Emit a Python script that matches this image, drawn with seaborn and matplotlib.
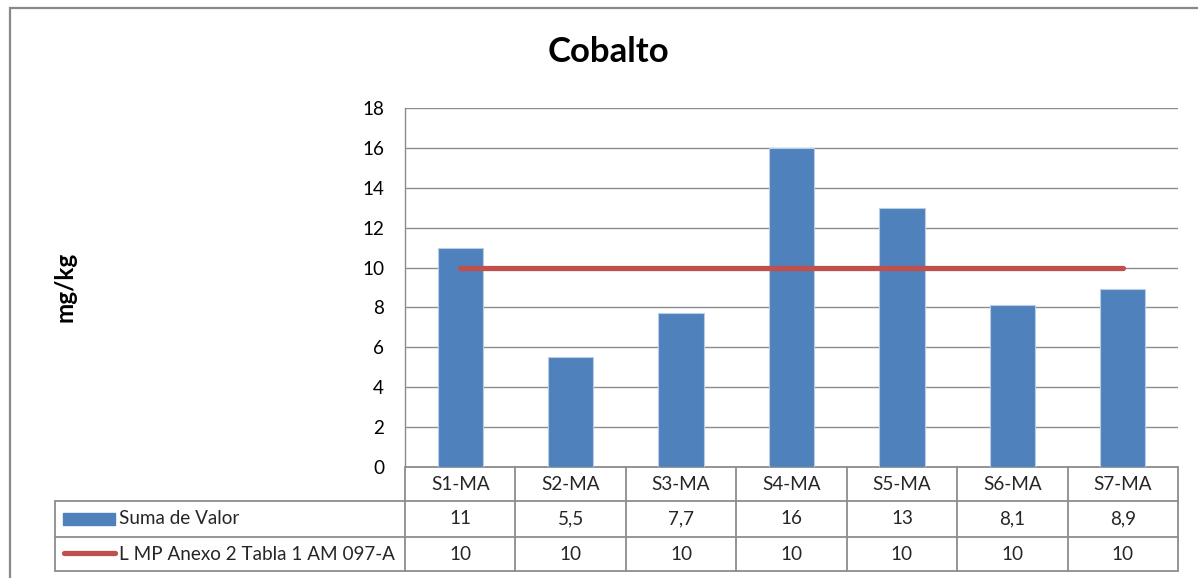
import matplotlib
matplotlib.use("Agg")
import matplotlib.pyplot as plt
from matplotlib.lines import Line2D
from matplotlib.patches import Rectangle
from matplotlib.transforms import blended_transform_factory
import pandas as pd
import seaborn as sns

# Data
muestras = ["S1-MA", "S2-MA", "S3-MA", "S4-MA", "S5-MA", "S6-MA", "S7-MA"]
suma_valor = [11, 5.5, 7.7, 16, 13, 8.1, 8.9]
limite = [10, 10, 10, 10, 10, 10, 10]
serie_barras = "Suma de Valor"
serie_linea = "L MP Anexo 2 Tabla 1 AM 097-A"

df = pd.DataFrame({"muestra": muestras, "valor": suma_valor, "limite": limite})

sns.set_style("white")
plt.rcParams["font.family"] = ["Lato", "DejaVu Sans"]

W, H = 1198, 578
fig = plt.figure(figsize=(W / 100, H / 100), dpi=100)

# plot area in pixels: x 405..1178, y 108..467
ax = fig.add_axes([405 / W, 1 - 467 / H, 773 / W, 359 / H])

blue = "#4F81BD"
red = "#C0504D"
grid = "#8C8C8C"

sns.barplot(data=df, x="muestra", y="valor", color=blue, width=0.41,
            edgecolor="#B9CDE5", linewidth=0.8, saturation=1, ax=ax, zorder=3)
ax.plot(range(len(muestras)), df["limite"], color=red, lw=3.8,
        solid_capstyle="round", zorder=4)

ax.set_ylim(0, 18)
ax.set_yticks(range(0, 19, 2))
ax.set_xlim(-0.5, len(muestras) - 0.5)
ax.yaxis.grid(True, color=grid, lw=1.0, zorder=0)
ax.set_axisbelow(True)
for s in ["top", "right", "bottom"]:
    ax.spines[s].set_visible(False)
ax.spines["left"].set_color(grid)
ax.spines["left"].set_linewidth(1.0)
ax.set_xticks([])
ax.set_xlabel("")
ax.set_ylabel("")
ax.tick_params(axis="y", length=0, pad=15, labelsize=13.6, colors="black")

# title and axis label
fig.text(608 / W, 1 - 52 / H, "Cobalto", ha="center", va="center",
         fontsize=25, fontweight="bold", color="black")
fig.text(65 / W, 1 - 287 / H, "mg/kg", ha="center", va="center",
         rotation=90, fontsize=17.5, fontweight="bold", color="black")

# data table under the plot
trans = blended_transform_factory(ax.transData, ax.transAxes)
r0, r1, r2, r3 = 0.0, -34 / 359, -70 / 359, -104 / 359
left_ax = (55 - 405) / 773
tcol = "#8C8C8C"
lw_t = 1.3
n = len(muestras)

def hline(x0, x1, y, tr):
    ax.add_line(Line2D([x0, x1], [y, y], color=tcol, lw=lw_t, transform=tr,
                       clip_on=False))

def vline(x, y0, y1, tr):
    ax.add_line(Line2D([x, x], [y0, y1], color=tcol, lw=lw_t, transform=tr,
                       clip_on=False))

hline(-0.5, n - 0.5, r0, trans)
for y in (r1, r2, r3):
    hline(left_ax, 1, y, ax.transAxes)
for i in range(n + 1):
    vline(i - 0.5, r0, r3, trans)
vline(left_ax, r1, r3, ax.transAxes)

fs = 13.6
for i, m in enumerate(muestras):
    ax.text(i, (r0 + r1) / 2, m, transform=trans, ha="center", va="center", fontsize=fs)
    ax.text(i, (r1 + r2) / 2, f"{suma_valor[i]:g}".replace(".", ","),
            transform=trans, ha="center", va="center", fontsize=fs)
    ax.text(i, (r2 + r3) / 2, f"{limite[i]:g}".replace(".", ","),
            transform=trans, ha="center", va="center", fontsize=fs)

# legend keys in table
fig.patches.append(Rectangle((63 / W, 1 - 525 / H), 52 / W, 12 / H,
                             transform=fig.transFigure, color=blue))
fig.lines.append(Line2D([64 / W, 115 / W], [1 - 553 / H, 1 - 553 / H],
                        transform=fig.transFigure, color=red, lw=3.8,
                        solid_capstyle="round"))
fig.text(119 / W, 1 - 519 / H, serie_barras, ha="left", va="center", fontsize=fs)
fig.text(119 / W, 1 - 554 / H, serie_linea, ha="left", va="center", fontsize=fs)

# outer chart border (cut off at right and bottom)
fig.patches.append(Rectangle((10 / W, -0.1), 1.2, 1 - 8 / H + 0.1,
                             transform=fig.transFigure, fill=False,
                             edgecolor="#888888", lw=1.6))

fig.savefig("out.png", dpi=100)
